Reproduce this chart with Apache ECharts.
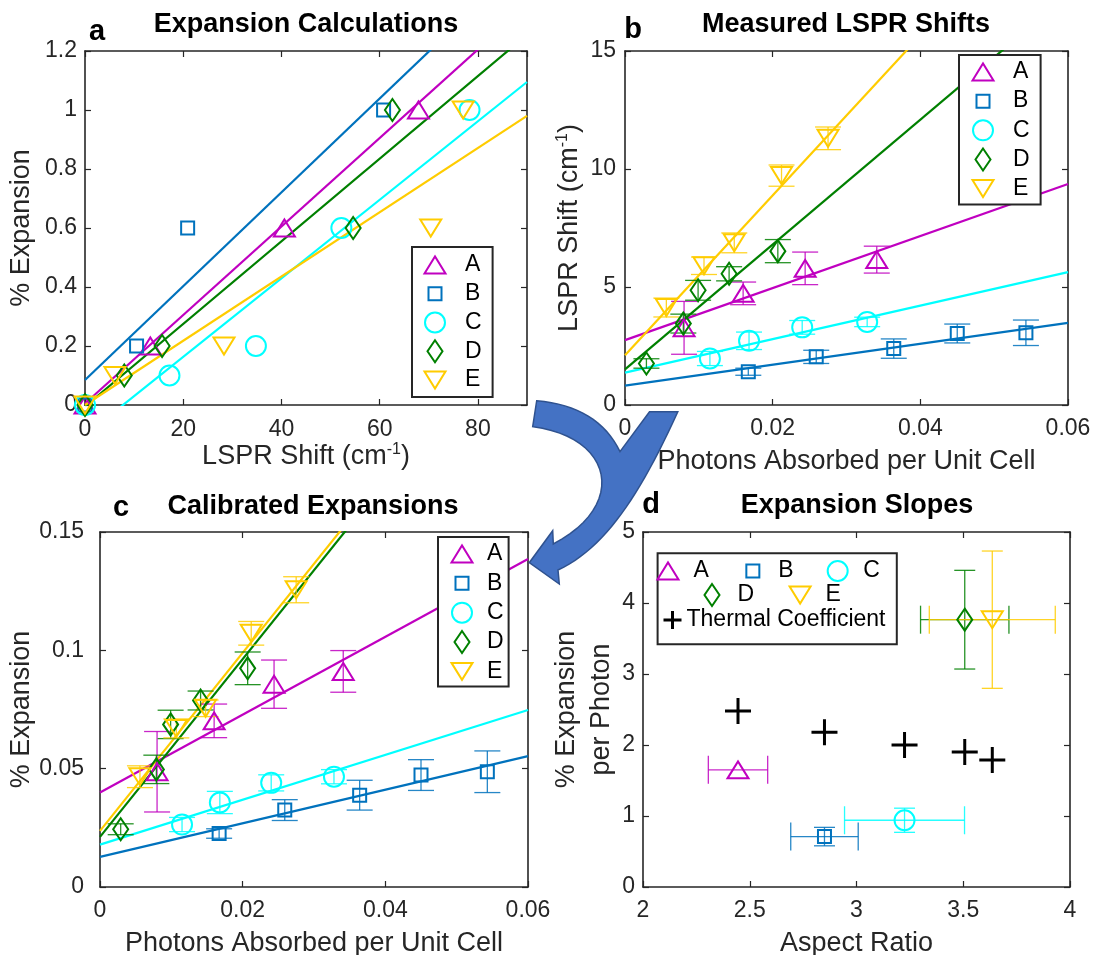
<!DOCTYPE html>
<html>
<head>
<meta charset="utf-8">
<script src="https://cdn.jsdelivr.net/npm/echarts@6/dist/echarts.min.js"></script>
<style>
  html, body { margin: 0; padding: 0; background: #ffffff; }
  #chart { width: 1094px; height: 955px; }
</style>
</head>
<body>
<div id="chart"></div>
<script>
// ---------- samples ----------
const sampleNames = ['A', 'B', 'C', 'D', 'E'];
const sampleColors = ['#C000C0', '#0072BD', '#00FFFF', '#008000', '#FFCC00'];

// ---------- panel a: % expansion vs LSPR shift (cm^-1) ----------
const calcA = [[0, 0], [13.3, 0.2], [40.6, 0.6], [67.9, 1.0]];
const calcB = [[0, 0], [10.5, 0.2], [20.9, 0.6], [60.8, 1.0]];
const calcC = [[0, 0], [17.2, 0.1], [34.8, 0.2], [52.2, 0.6], [78.3, 1.0]];
const calcD = [[0, 0], [8.0, 0.1], [15.7, 0.2], [54.6, 0.6], [62.6, 1.0]];
const calcE = [[0, 0], [6.1, 0.1], [28.3, 0.2], [70.4, 0.6], [77.0, 1.0]];
const calcFitIntercept = [0.005, 0.085, -0.103, -0.005, 0.0];
const calcFitSlope = [0.0150, 0.0159, 0.01331, 0.0140, 0.01089];

// ---------- photons absorbed per unit cell (panels b and c) ----------
const photonsA = [0.0080, 0.0160, 0.0244, 0.0341];
const photonsB = [0.0167, 0.0259, 0.0364, 0.0450, 0.0543];
const photonsC = [0.0115, 0.0168, 0.0240, 0.0328];
const photonsD = [0.0029, 0.0079, 0.0099, 0.0141, 0.0207];
const photonsE = [0.0056, 0.0107, 0.0148, 0.0212, 0.0275];

// ---------- panel b: measured LSPR shift (cm^-1) ----------
const shiftA = [3.27, 4.73, 5.79, 6.16];
const shiftB = [1.41, 2.04, 2.39, 3.03, 3.06];
const shiftC = [1.97, 2.72, 3.29, 3.52];
const shiftD = [1.76, 3.45, 4.86, 5.56, 6.52];
const shiftE = [4.13, 5.90, 6.87, 9.72, 11.30];
const shiftErrA = [1.12, 0.48, 0.69, 0.57];
const shiftErrB = [0.15, 0.28, 0.41, 0.40, 0.54];
const shiftErrC = [0.30, 0.37, 0.29, 0.20];
const shiftErrD = [0.20, 0.40, 0.42, 0.30, 0.49];
const shiftErrE = [0.40, 0.37, 0.42, 0.45, 0.48];
const shiftFitIntercept = [2.75, 0.82, 1.37, 1.51, 2.11];
const shiftFitSlope = [110.3, 44.3, 71.0, 264.5, 338.6];

// ---------- panel c: calibrated % expansion ----------
const expA = [0.0487, 0.0702, 0.0857, 0.0911];
const expB = [0.0226, 0.0325, 0.0388, 0.0473, 0.0487];
const expC = [0.0264, 0.0357, 0.0440, 0.0466];
const expD = [0.0244, 0.0497, 0.0687, 0.0788, 0.0924];
const expE = [0.0466, 0.0670, 0.0755, 0.1072, 0.1256];
const expErrA = [0.0170, 0.0071, 0.0102, 0.0088];
const expErrB = [0.0020, 0.0044, 0.0063, 0.0065, 0.0088];
const expErrC = [0.0030, 0.0047, 0.0034, 0.0030];
const expErrD = [0.0023, 0.0060, 0.0060, 0.0040, 0.0069];
const expErrE = [0.0046, 0.0040, 0.0035, 0.0050, 0.0055];
const expFitIntercept = [0.0399, 0.0127, 0.0179, 0.0212, 0.0237];
const expFitSlope = [1.645, 0.710, 0.948, 3.755, 3.762];

// ---------- panel d: expansion slopes vs aspect ratio ----------
const aspectRatio = [2.445, 2.850, 3.225, 3.507, 3.636];
const aspectErr = [0.139, 0.158, 0.281, 0.207, 0.295];
const slopeValue = [1.65, 0.71, 0.94, 3.765, 3.765];
const slopeErr = [0, 0.13, 0.17, 0.695, 0.967];
const thermalCoef = [2.48, 2.18, 2.00, 1.90, 1.79];

// ---------- axes ----------
const xRanges = [[0, 90, 20], [0, 0.06, 0.02], [0, 0.06, 0.02], [2, 4, 0.5]];
const yRanges = [[0, 1.2, 0.2], [0, 15, 5], [0, 0.15, 0.05], [0, 5, 1]];
const xNames = ['LSPR Shift (cm{sup|-1})', 'Photons Absorbed per Unit Cell', 'Photons Absorbed per Unit Cell', 'Aspect Ratio'];
const yNames = ['% Expansion', 'LSPR Shift (cm{sup|-1})', '% Expansion', '% Expansion\nper Photon'];
const panelTitles = ['Expansion Calculations', 'Measured LSPR Shifts', 'Calibrated Expansions', 'Expansion Slopes'];
const panelLetters = ['a', 'b', 'c', 'd'];

// ---------- layout ----------
const FONT = '"Liberation Sans", Arial, Helvetica, sans-serif';
const AXIS_COLOR = '#262626';
const grids = [
  { left: 85, top: 51, width: 442, height: 354 },
  { left: 625, top: 51, width: 443, height: 354 },
  { left: 100, top: 532, width: 428, height: 355 },
  { left: 643, top: 532, width: 427, height: 355 }
];
const xNameGaps = [37, 42, 42, 42];
const yNameGaps = [48, 40, 63, 24];
const yLabelMargins = [8, 9, 16, 8];
const xLabelMargins = [13, 12, 12, 12];
const titlePos = [[306, 25], [846, 25], [313, 507], [857, 506]];
const letterPos = [[97, 32], [633, 30], [121, 508], [651, 505]];

// hollow marker outlines, each inside a common 24x24 frame
const FRAME = 'M-12,-12M12,12';
const markerPaths = [
  'path://' + FRAME + 'M-10.5,8.5L0,-8.5L10.5,8.5Z',
  'path://' + FRAME + 'M-6.5,-6.5H6.5V6.5H-6.5Z',
  'path://' + FRAME + 'M-10,0A10,10,0,1,1,10,0A10,10,0,1,1,-10,0Z',
  'path://' + FRAME + 'M0,-11L7.5,0L0,11L-7.5,0Z',
  'path://' + FRAME + 'M-10.5,-8.5L10.5,-8.5L0,8.5Z'
];
const plusPath = 'path://M-9,0H9M0,-9V9';

const supRich = {
  sup: { fontSize: 16, lineHeight: 16, verticalAlign: 'top', color: AXIS_COLOR, fontFamily: FONT }
};

const xAxis = [];
const yAxis = [];
const lineStyle = { color: AXIS_COLOR, width: 1.6 };
const tickStyle = { color: AXIS_COLOR, width: 1.2 };
for (let i = 0; i < 4; i++) {
  xAxis.push({
    gridIndex: i, type: 'value', position: 'bottom',
    min: xRanges[i][0], max: xRanges[i][1], interval: xRanges[i][2],
    name: xNames[i], nameLocation: 'middle', nameGap: xNameGaps[i], nameMoveOverlap: false,
    nameTextStyle: { fontSize: 27, color: AXIS_COLOR, fontFamily: FONT, lineHeight: 30, rich: supRich },
    axisLine: { show: true, onZero: false, lineStyle: lineStyle },
    axisTick: { show: true, inside: true, length: 6, lineStyle: tickStyle },
    axisLabel: { fontSize: 23, color: AXIS_COLOR, fontFamily: FONT, lineHeight: 23,
                 margin: xLabelMargins[i], showMaxLabel: i === 0 ? false : null },
    splitLine: { show: false }
  });
  yAxis.push({
    gridIndex: i, type: 'value', position: 'left',
    min: yRanges[i][0], max: yRanges[i][1], interval: yRanges[i][2],
    name: yNames[i], nameLocation: 'middle', nameGap: yNameGaps[i], nameMoveOverlap: false,
    nameTextStyle: { fontSize: 27, color: AXIS_COLOR, fontFamily: FONT,
                     lineHeight: i === 3 ? 35 : 30, rich: supRich },
    axisLine: { show: true, onZero: false, lineStyle: lineStyle },
    axisTick: { show: true, inside: true, length: 6, lineStyle: tickStyle },
    axisLabel: { fontSize: 23, color: AXIS_COLOR, fontFamily: FONT, margin: yLabelMargins[i] },
    splitLine: { show: false }
  });
}
// mirrored box edges with inward ticks
for (let i = 0; i < 4; i++) {
  xAxis.push({
    gridIndex: i, type: 'value', position: 'top',
    min: xRanges[i][0], max: xRanges[i][1], interval: xRanges[i][2],
    axisLine: { show: true, onZero: false, lineStyle: lineStyle },
    axisTick: { show: true, inside: true, length: 6, lineStyle: tickStyle },
    axisLabel: { show: false }, splitLine: { show: false }
  });
  yAxis.push({
    gridIndex: i, type: 'value', position: 'right',
    min: yRanges[i][0], max: yRanges[i][1], interval: yRanges[i][2],
    axisLine: { show: true, onZero: false, lineStyle: lineStyle },
    axisTick: { show: true, inside: true, length: 6, lineStyle: tickStyle },
    axisLabel: { show: false }, splitLine: { show: false }
  });
}

// ---------- series helpers ----------
function fitLine(panel, name, color, intercept, slope) {
  const x0 = xRanges[panel][0], x1 = xRanges[panel][1];
  return {
    type: 'line', name: name + ' fit', xAxisIndex: panel, yAxisIndex: panel,
    data: [[x0, intercept + slope * x0], [x1, intercept + slope * x1]],
    symbol: 'none', showSymbol: false, clip: true, silent: true, z: 2,
    lineStyle: { color: color, width: 2.2 }
  };
}
function markers(panel, idx, points) {
  return {
    type: 'scatter', name: sampleNames[idx], xAxisIndex: panel, yAxisIndex: panel,
    data: points, symbol: markerPaths[idx], symbolSize: 24, z: 4, silent: true,
    itemStyle: { color: 'rgba(255,255,255,0)', borderColor: sampleColors[idx], borderWidth: 2, opacity: 1 }
  };
}
function vErrBars(panel, idx, xs, ys, errs, capHalf) {
  const color = sampleColors[idx];
  return {
    type: 'custom', name: sampleNames[idx] + ' error', xAxisIndex: panel, yAxisIndex: panel,
    data: xs.map((x, k) => [x, ys[k], errs[k]]), encode: { x: 0, y: 1 }, z: 3, silent: true,
    renderItem: function (params, api) {
      const x = api.value(0), y = api.value(1), e = api.value(2);
      const top = api.coord([x, y + e]);
      const bot = api.coord([x, y - e]);
      const st = { stroke: color, lineWidth: 1.3, opacity: 0.85 };
      return { type: 'group', children: [
        { type: 'line', shape: { x1: top[0], y1: top[1], x2: bot[0], y2: bot[1] }, style: st },
        { type: 'line', shape: { x1: top[0] - capHalf, y1: top[1], x2: top[0] + capHalf, y2: top[1] }, style: st },
        { type: 'line', shape: { x1: bot[0] - capHalf, y1: bot[1], x2: bot[0] + capHalf, y2: bot[1] }, style: st }
      ] };
    }
  };
}
function xyErrBars(panel, idx) {
  const color = sampleColors[idx];
  return {
    type: 'custom', name: sampleNames[idx] + ' error', xAxisIndex: panel, yAxisIndex: panel,
    data: [[aspectRatio[idx], slopeValue[idx], aspectErr[idx], slopeErr[idx]]],
    encode: { x: 0, y: 1 }, z: 3, silent: true,
    renderItem: function (params, api) {
      const x = api.value(0), y = api.value(1), ex = api.value(2), ey = api.value(3);
      const st = { stroke: color, lineWidth: 1.3, opacity: 0.85 };
      const l = api.coord([x - ex, y]), r = api.coord([x + ex, y]);
      const ch = [
        { type: 'line', shape: { x1: l[0], y1: l[1], x2: r[0], y2: r[1] }, style: st },
        { type: 'line', shape: { x1: l[0], y1: l[1] - 14, x2: l[0], y2: l[1] + 14 }, style: st },
        { type: 'line', shape: { x1: r[0], y1: r[1] - 14, x2: r[0], y2: r[1] + 14 }, style: st }
      ];
      if (ey > 0) {
        const t = api.coord([x, y + ey]), b = api.coord([x, y - ey]);
        ch.push(
          { type: 'line', shape: { x1: t[0], y1: t[1], x2: b[0], y2: b[1] }, style: st },
          { type: 'line', shape: { x1: t[0] - 10.5, y1: t[1], x2: t[0] + 10.5, y2: t[1] }, style: st },
          { type: 'line', shape: { x1: b[0] - 10.5, y1: b[1], x2: b[0] + 10.5, y2: b[1] }, style: st }
        );
      }
      return { type: 'group', children: ch };
    }
  };
}
const zip = (xs, ys) => xs.map((x, k) => [x, ys[k]]);

const calcData = [calcA, calcB, calcC, calcD, calcE];
const photons = [photonsA, photonsB, photonsC, photonsD, photonsE];
const shifts = [shiftA, shiftB, shiftC, shiftD, shiftE];
const shiftErrs = [shiftErrA, shiftErrB, shiftErrC, shiftErrD, shiftErrE];
const exps = [expA, expB, expC, expD, expE];
const expErrs = [expErrA, expErrB, expErrC, expErrD, expErrE];

const series = [];
// panel a
for (let i = 0; i < 5; i++) series.push(fitLine(0, sampleNames[i], sampleColors[i], calcFitIntercept[i], calcFitSlope[i]));
for (let i = 0; i < 5; i++) series.push(markers(0, i, calcData[i]));
// panel b
for (let i = 0; i < 5; i++) series.push(fitLine(1, sampleNames[i], sampleColors[i], shiftFitIntercept[i], shiftFitSlope[i]));
for (let i = 0; i < 5; i++) series.push(vErrBars(1, i, photons[i], shifts[i], shiftErrs[i], 13));
for (let i = 0; i < 5; i++) series.push(markers(1, i, zip(photons[i], shifts[i])));
// panel c
for (let i = 0; i < 5; i++) series.push(fitLine(2, sampleNames[i], sampleColors[i], expFitIntercept[i], expFitSlope[i]));
for (let i = 0; i < 5; i++) series.push(vErrBars(2, i, photons[i], exps[i], expErrs[i], 13));
for (let i = 0; i < 5; i++) series.push(markers(2, i, zip(photons[i], exps[i])));
// panel d
for (let i = 0; i < 5; i++) series.push(xyErrBars(3, i));
for (let i = 0; i < 5; i++) series.push(markers(3, i, [[aspectRatio[i], slopeValue[i]]]));
series.push({
  type: 'scatter', name: 'Thermal Coefficient', xAxisIndex: 3, yAxisIndex: 3,
  data: zip(aspectRatio, thermalCoef), symbol: plusPath, symbolSize: 26, z: 4, silent: true,
  itemStyle: { color: 'rgba(0,0,0,0)', borderColor: '#000000', borderWidth: 3, opacity: 1 }
});

// ---------- legends ----------
const legendText = { fontSize: 23, color: '#000000', fontFamily: FONT, lineHeight: 24 };
function boxedLegend(left, top, itemWidth, gap, padding) {
  return {
    left: left, top: top, orient: 'vertical', data: sampleNames, selectedMode: false,
    itemWidth: itemWidth, itemHeight: 24, itemGap: gap, padding: padding,
    borderColor: AXIS_COLOR, borderWidth: 2, backgroundColor: '#ffffff', borderRadius: 0,
    textStyle: legendText
  };
}
const legend = [
  boxedLegend(412, 247, 50, 2.75, [5, 11, 4, 10]),
  boxedLegend(959, 55, 50, 3.15, [4, 11, 3, 11]),
  boxedLegend(438, 537, 40, 3.35, [4, 5, 2, 11]),
  { left: 655, top: 558, orient: 'horizontal', data: ['A', 'B', 'C'], selectedMode: false,
    itemWidth: 41, itemHeight: 24, itemGap: 31, padding: 0, textStyle: legendText },
  { left: 699, top: 582, orient: 'horizontal', data: ['D', 'E'], selectedMode: false,
    itemWidth: 41, itemHeight: 24, itemGap: 33, padding: 0, textStyle: legendText },
  { left: 662, top: 608, orient: 'horizontal', data: ['Thermal Coefficient'], selectedMode: false,
    itemWidth: 18, itemHeight: 18, padding: 0, textStyle: legendText,
    itemStyle: { borderWidth: 3 } }
];

// ---------- curved arrow outline (decoration linking panel b to panel c) ----------
function quad(p0, c, p1, n) {
  const pts = [];
  for (let k = 1; k <= n; k++) {
    const t = k / n, u = 1 - t;
    pts.push([u * u * p0[0] + 2 * u * t * c[0] + t * t * p1[0],
              u * u * p0[1] + 2 * u * t * c[1] + t * t * p1[1]]);
  }
  return pts;
}
function cubic(p0, c1, c2, p1, n) {
  const pts = [];
  for (let k = 1; k <= n; k++) {
    const t = k / n, u = 1 - t;
    pts.push([u * u * u * p0[0] + 3 * u * u * t * c1[0] + 3 * u * t * t * c2[0] + t * t * t * p1[0],
              u * u * u * p0[1] + 3 * u * u * t * c1[1] + 3 * u * t * t * c2[1] + t * t * t * p1[1]]);
  }
  return pts;
}
const arrowPoints = [[536.7, 400.7]]
  .concat(quad([536.7, 400.7], [598, 406], [620, 451.7], 16))
  .concat([[649.5, 411.7], [677.8, 411.7]])
  .concat(cubic([677.8, 411.7], [640, 495], [605, 548], [558, 570], 24))
  .concat([[559.3, 584], [529.3, 562.7], [552.7, 530.7], [553.3, 544]])
  .concat(cubic([553.3, 544], [628, 505], [613, 437], [532.7, 426.7], 24));

// ---------- titles, panel letters, legend frame for d, arrow ----------
const graphic = [];
for (let i = 0; i < 4; i++) {
  graphic.push({
    type: 'text', x: titlePos[i][0], y: titlePos[i][1], z: 10,
    style: { text: panelTitles[i], fontSize: 27, fontWeight: 'bold', fontFamily: FONT,
             fill: '#000000', align: 'center', verticalAlign: 'middle' }
  });
  graphic.push({
    type: 'text', x: letterPos[i][0], y: letterPos[i][1], z: 10,
    style: { text: panelLetters[i], fontSize: 29, fontWeight: 'bold', fontFamily: FONT,
             fill: '#000000', align: 'center', verticalAlign: 'middle' }
  });
}
graphic.push({
  type: 'rect', shape: { x: 657.6, y: 553.3, width: 239.2, height: 91 }, z: 1,
  style: { fill: '#ffffff', stroke: AXIS_COLOR, lineWidth: 2 }
});
graphic.push({
  type: 'polygon', z: 20,
  shape: { points: arrowPoints },
  style: { fill: '#4472C4', stroke: '#2F528F', lineWidth: 1.5 }
});

const chart = echarts.init(document.getElementById('chart'), null, { renderer: 'canvas' });
chart.setOption({
  backgroundColor: '#ffffff',
  animation: false,
  textStyle: { fontFamily: FONT },
  grid: grids.map(g => Object.assign({ containLabel: false, outerBoundsMode: 'none' }, g)),
  xAxis: xAxis,
  yAxis: yAxis,
  legend: legend,
  series: series,
  graphic: graphic
});
</script>
</body>
</html>
